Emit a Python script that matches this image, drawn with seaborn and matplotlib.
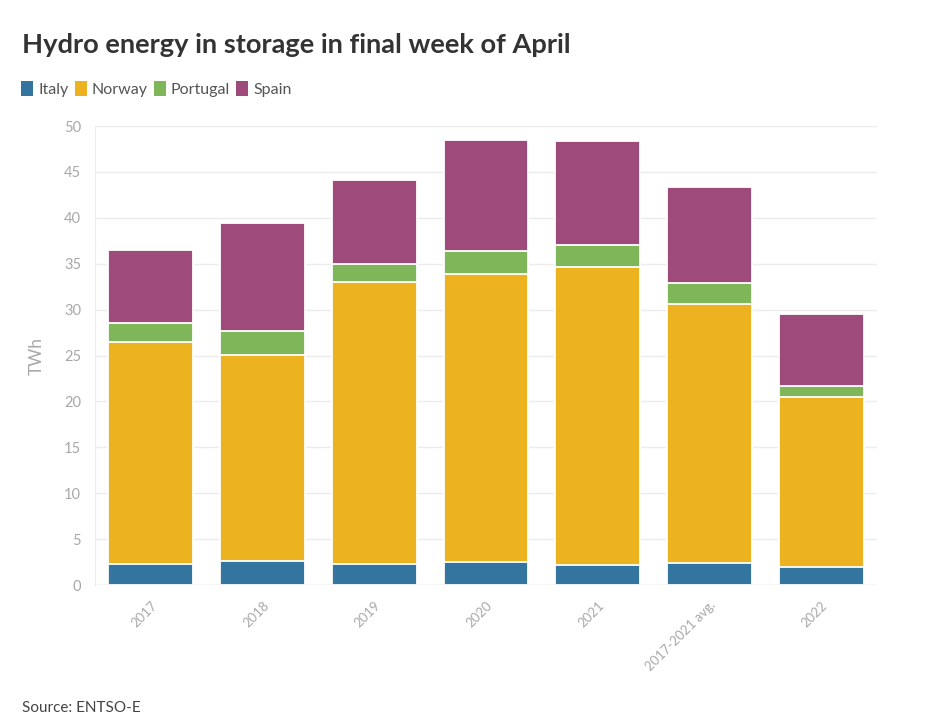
import pandas as pd
import matplotlib.pyplot as plt
import seaborn as sns
from matplotlib.patches import Patch

# ─── Data (TWh) ───────────────────────────────────────────────────────────────
periods  = ['2017', '2018', '2019', '2020', '2021', '2017-2021 avg.', '2022']
italy    = [2.3, 2.65, 2.3, 2.5, 2.2, 2.4, 2.0]
norway   = [24.2, 22.4, 30.7, 31.4, 32.4, 28.2, 18.5]
portugal = [2.0, 2.65, 1.95, 2.5, 2.4, 2.3, 1.2]
spain    = [8.0, 11.7, 9.15, 12.1, 11.4, 10.5, 7.8]

countries = ['Italy', 'Norway', 'Portugal', 'Spain']
COLORS = {'Italy': '#34759f', 'Norway': '#edb220',
          'Portugal': '#80b65a', 'Spain': '#9e4a7a'}

# ─── Build table with cumulative tops ─────────────────────────────────────────
df = pd.DataFrame({'period': periods, 'Italy': italy, 'Norway': norway,
                   'Portugal': portugal, 'Spain': spain})
cum = df[countries].cumsum(axis=1)
cum['period'] = df['period']

sns.set_style('white')
plt.rcParams['font.family'] = ['Lato', 'DejaVu Sans']

fig = plt.figure(figsize=(9.36, 7.21), dpi=100)
ax = fig.add_axes([0.1015, 0.1886, 0.8355, 0.6366])

# draw from the top segment down so each lower stack covers the one above
for c in reversed(countries):
    sns.barplot(data=cum, x='period', y=c, color=COLORS[c], width=0.76,
                edgecolor='white', linewidth=1.3, saturation=1, ax=ax,
                zorder=3)

ax.set_ylim(0, 50)
ax.set_xlim(-0.5, 6.5)
ax.set_yticks(range(0, 51, 5))
ax.grid(axis='y', color='#ececec', linewidth=1, zorder=0)
for s in ['top', 'right', 'bottom']:
    ax.spines[s].set_visible(False)
ax.spines['left'].set_color('#ececec')
ax.axhline(0, color='#e4e4e4', linewidth=1, zorder=4)

ax.tick_params(axis='y', length=8, color='#ececec', labelsize=10.5,
               labelcolor='#a8a8a8', pad=2)
ax.tick_params(axis='x', length=6, color='#e4e4e4', labelsize=9.5,
               labelcolor='#a8a8a8', pad=4)
ax.set_xticks(range(len(periods)))
ax.set_xticklabels(periods, rotation=45, ha='right', va='top',
                   rotation_mode='anchor')
ax.set_xlabel('')
ax.set_ylabel('TWh', color='#a8a8a8', fontsize=12.5, labelpad=14)

fig.text(0.0235, 0.937, 'Hydro energy in storage in final week of April',
         fontsize=19.6, fontweight='bold', color='#333333', va='center')

handles = [Patch(facecolor=COLORS[c], edgecolor='none') for c in countries]
fig.legend(handles, countries, loc='center left', bbox_to_anchor=(0.016, 0.877),
           ncol=4, frameon=False, fontsize=11.5, handlelength=0.75,
           handleheight=1.1, handletextpad=0.3, columnspacing=0.4,
           labelcolor='#555555', borderaxespad=0)

fig.text(0.0235, 0.018, 'Source: ENTSO-E', fontsize=11, color='#444444',
         va='center')

fig.savefig('out.png', dpi=100)
